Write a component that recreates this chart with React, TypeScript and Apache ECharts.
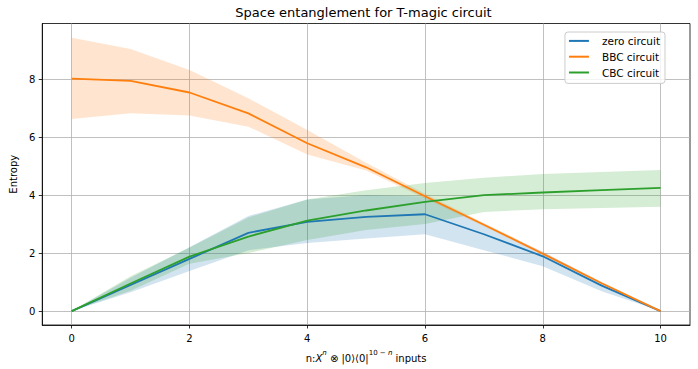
import React, { useEffect, useRef } from "react";
import * as echarts from "echarts";

const xValues = [0, 1, 2, 3, 4, 5, 6, 7, 8, 9, 10];
const xTicks = [0, 2, 4, 6, 8, 10];
const yTicks = [0, 2, 4, 6, 8];

const zeroMean = [0, 0.9, 1.8, 2.7, 3.08, 3.25, 3.34, 2.65, 1.89, 0.88, 0];
const zeroLower = [0, 0.65, 1.38, 2.1, 2.35, 2.5, 2.65, 2.1, 1.55, 0.68, 0];
const zeroUpper = [0, 1.15, 2.2, 3.28, 3.85, 4.0, 3.95, 2.95, 2.05, 0.98, 0];

const bbcMean = [8.02, 7.94, 7.54, 6.82, 5.79, 4.96, 3.96, 2.98, 1.98, 0.96, 0];
const bbcLower = [6.63, 6.82, 6.75, 6.36, 5.4, 4.85, 3.88, 2.93, 1.93, 0.93, 0];
const bbcUpper = [9.43, 9.04, 8.32, 7.34, 6.25, 5.12, 4.05, 3.04, 2.04, 1.0, 0];

const cbcMean = [0, 0.95, 1.88, 2.57, 3.12, 3.47, 3.77, 4.0, 4.09, 4.17, 4.25];
const cbcLower = [0, 0.7, 1.63, 2.0, 2.45, 2.8, 3.0, 3.42, 3.51, 3.56, 3.6];
const cbcUpper = [0, 1.2, 2.19, 3.23, 3.85, 4.17, 4.42, 4.6, 4.73, 4.8, 4.87];

const seriesNames = ["zero circuit", "BBC circuit", "CBC circuit"];
const titleText = "Space entanglement for T-magic circuit";

const W = 698;
const H = 369;
const FONT = "DejaVu Sans";
const GRID = { left: 37, right: 8, top: 23.5, bottom: 44 };

export default function App() {
  const ref = useRef<HTMLDivElement>(null);
  useEffect(() => {
    document.body.style.margin = "0";
    if (!ref.current) return;
    const chart = echarts.init(ref.current, undefined, { renderer: "svg" });

    const groups = [
      { name: seriesNames[0], color: "#1f77b4", band: "rgba(31,119,180,0.2)", mean: zeroMean, lower: zeroLower, upper: zeroUpper },
      { name: seriesNames[1], color: "#ff7f0e", band: "rgba(255,127,14,0.2)", mean: bbcMean, lower: bbcLower, upper: bbcUpper },
      { name: seriesNames[2], color: "#2ca02c", band: "rgba(44,160,44,0.2)", mean: cbcMean, lower: cbcLower, upper: cbcUpper },
    ];

    const series: any[] = [];
    groups.forEach((g, gi) => {
      series.push({
        type: "custom",
        name: "_band" + gi,
        silent: true,
        z: 1,
        data: xValues.map((x, i) => [x, g.lower[i], g.upper[i]]),
        encode: { x: 0, y: [1, 2] },
        renderItem: (params: any, api: any) => {
          if (params.dataIndex !== 0) return null;
          const top = xValues.map((x, i) => api.coord([x, g.upper[i]]));
          const bottom = xValues.map((x, i) => api.coord([x, g.lower[i]])).reverse();
          return {
            type: "polygon",
            shape: { points: top.concat(bottom) },
            style: { fill: g.band, stroke: "none" },
          };
        },
      });
    });
    groups.forEach((g) => {
      series.push({
        type: "line",
        name: g.name,
        data: xValues.map((x, i) => [x, g.mean[i]]),
        symbol: "none",
        lineStyle: { width: 1.8, color: g.color },
        itemStyle: { color: g.color },
        z: 3,
      });
    });

    const xName =
      "{a|n:}{i|X}{si|n}{a| ⊗ |0⟩⟨0|}{s|10 − }{si|n}{a| inputs}";

    chart.setOption({
      animation: false,
      textStyle: { fontFamily: FONT },
      grid: {
        left: GRID.left,
        right: GRID.right,
        top: GRID.top,
        bottom: GRID.bottom,
        show: true,
        borderColor: "#000",
        borderWidth: 0.8,
        containLabel: false,
      },
      graphic: [
        {
          type: "text",
          x: GRID.left + (W - GRID.left - GRID.right) / 2,
          y: 12,
          style: {
            text: titleText,
            align: "center",
            verticalAlign: "middle",
            font: `13px "${FONT}"`,
            fill: "#000",
          },
        },
      ],
      legend: {
        data: seriesNames.map((n) => ({ name: n, icon: "rect" })),
        orient: "vertical",
        right: 33,
        top: 32,
        itemWidth: 20,
        itemHeight: 2,
        itemGap: 0,
        padding: [1, 5, 3, 4],
        backgroundColor: "rgba(255,255,255,0.8)",
        borderColor: "#cccccc",
        borderWidth: 1,
        borderRadius: 3,
        textStyle: { fontFamily: FONT, fontSize: 10.5, color: "#000", lineHeight: 15.8, padding: [0, 0, 0, 8] },
      },
      xAxis: {
        type: "value",
        min: -0.5,
        max: 10.5,
        name: xName,
        nameLocation: "middle",
        nameGap: 24,
        nameTextStyle: {
          color: "#000",
          rich: {
            a: { fontFamily: FONT, fontSize: 10, color: "#000", lineHeight: 14, verticalAlign: "bottom" },
            i: { fontFamily: FONT, fontSize: 10, fontStyle: "italic", color: "#000", lineHeight: 14, verticalAlign: "bottom" },
            s: { fontFamily: FONT, fontSize: 7, color: "#000", lineHeight: 11, verticalAlign: "top" },
            si: { fontFamily: FONT, fontSize: 7, fontStyle: "italic", color: "#000", lineHeight: 11, verticalAlign: "top" },
          },
        },
        axisLine: { show: true, onZero: false, lineStyle: { color: "#000", width: 0.8 } },
        axisTick: { show: true, length: 3.5, customValues: xTicks, lineStyle: { color: "#000", width: 0.8 } },
        axisLabel: { customValues: xTicks, color: "#000", fontSize: 10, fontFamily: FONT, margin: 8 },
        splitLine: { show: true, lineStyle: { color: "#b0b0b0", width: 0.8 } },
      },
      yAxis: {
        type: "value",
        min: -0.48,
        max: 9.92,
        name: "Entropy",
        nameLocation: "middle",
        nameGap: 22,
        nameTextStyle: { color: "#000", fontSize: 10, fontFamily: FONT },
        axisLine: { show: true, onZero: false, lineStyle: { color: "#000", width: 0.8 } },
        axisTick: { show: true, length: 3.5, customValues: yTicks, lineStyle: { color: "#000", width: 0.8 } },
        axisLabel: { customValues: yTicks, color: "#000", fontSize: 10, fontFamily: FONT, margin: 7 },
        splitLine: { show: true, lineStyle: { color: "#b0b0b0", width: 0.8 } },
      },
      series,
    });
    return () => chart.dispose();
  }, []);
  return <div ref={ref} style={{ width: W, height: H }} />;
}
